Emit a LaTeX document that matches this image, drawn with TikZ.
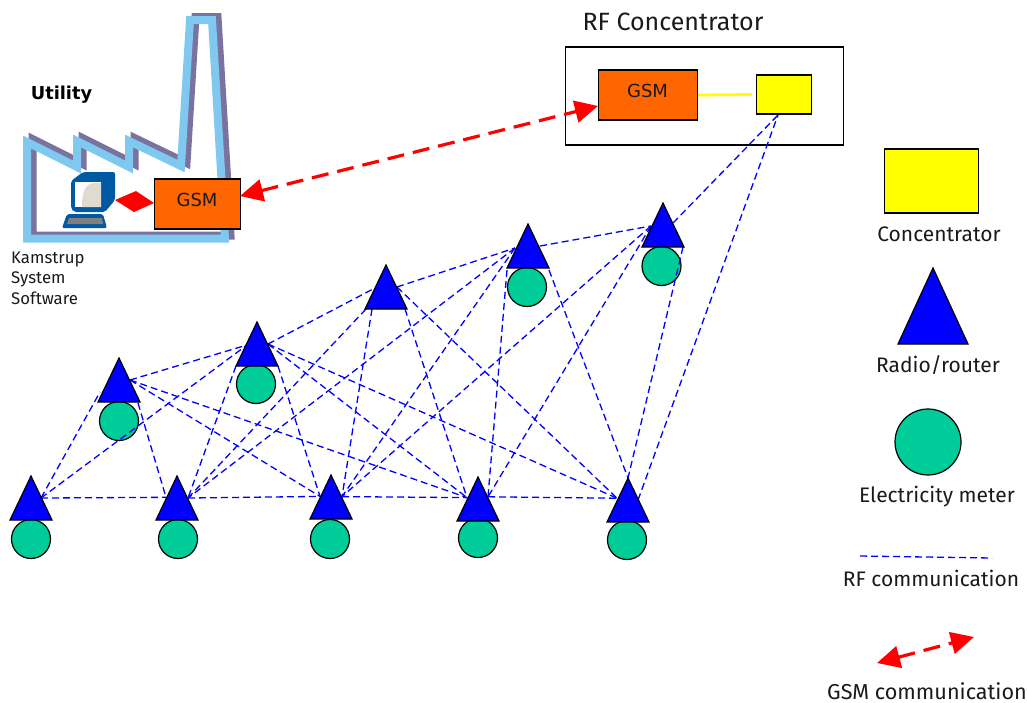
\documentclass[tikz,border=0pt]{standalone}
\usepackage{fontspec}
\setmainfont{Fira Sans}
\newfontfamily\verd{DejaVu Sans}
\usetikzlibrary{arrows.meta,shapes.geometric}
\definecolor{gsmorange}{HTML}{FF6600}
\definecolor{metergreen}{HTML}{00CC99}
\definecolor{factblue}{HTML}{7FC8EF}
\definecolor{factshade}{HTML}{7A739F}
\definecolor{pcblue}{HTML}{0059A3}
\definecolor{pcbeige}{HTML}{E0DBD0}
\definecolor{txt}{HTML}{1A1A1A}
\definecolor{yel}{HTML}{FFFF00}
\definecolor{rfblue}{HTML}{0000FF}
\definecolor{gsmred}{HTML}{FF0000}
\tikzset{
  rf/.style={draw=rfblue,line width=1.3pt,dash pattern=on 7pt off 4pt},
  gsmlink/.style={draw=gsmred,line width=3.2pt,dash pattern=on 17pt off 9pt,
     {Triangle[length=23pt,width=22pt,fill=gsmred]}-{Triangle[length=23pt,width=22pt,fill=gsmred]}},
  router/.style={isosceles triangle,isosceles triangle stretches,shape border rotate=90,
     draw=black,fill=rfblue,line width=1.2pt,inner sep=0pt,outer sep=0pt,minimum width=42pt,minimum height=44pt,anchor=apex},
  meter/.style={circle,draw=black,fill=metergreen,line width=1.2pt,inner sep=0pt,minimum size=39pt},
  gsmbox/.style={draw=black,fill=gsmorange,line width=1.2pt,inner sep=0pt},
  conc/.style={draw=black,fill=yel,line width=1.2pt,inner sep=0pt},
  lbl/.style={font=\fontsize{21}{23}\selectfont,text=txt,inner sep=0pt},
  fact/.style={line width=8pt,miter limit=10}
}
\begin{document}
\begin{tikzpicture}[x=1pt,y=-1pt]
\useasboundingbox (0,0) rectangle (1027,702);
% factory
\def\factory{(27,142) -- (77,167) -- (77,141) -- (129,167) -- (129,141) -- (181,166) -- (190,20) -- (212,20) -- (225,238.5) -- (27,238.5) -- cycle}
\begin{scope}[shift={(5.5,-3)}]
\draw[fact,draw=factshade] \factory;
\end{scope}
\draw[fact,draw=factblue] \factory;
% computer
\fill[pcblue,rounded corners=2pt] (71,181) -- (83,172) -- (115,172) -- (115,200) -- (105,212) -- (74,212) -- (71,208) -- cycle;
\fill[white] (75,182) rectangle (101,207);
\fill[pcbeige] (82,207) .. controls (82,192) and (85,183) .. (95,183) -- (101,183) -- (101,207) -- cycle;
\fill[pcblue,rounded corners=2pt] (67,214) -- (103,214) -- (107,228) -- (62,228) -- cycle;
\fill[gray] (67,224) -- (69,218) -- (102,218) -- (103,224) -- cycle;
\coordinate (pc) at (115,200);
% rf concentrator box
\node[draw=black,line width=1.2pt,minimum width=277.5pt,minimum height=98pt,inner sep=0pt] (rfbox) at (704.6,96) {};
\node[lbl,font=\fontsize{25}{27}\selectfont] (rftitle) at (673,22) {RF Concentrator};
\node[gsmbox,minimum width=86pt,minimum height=50pt] (gsmA) at (197.4,204) {};
\node[gsmbox,minimum width=99pt,minimum height=50pt] (gsmB) at (647.9,95) {};
\node[font=\verd\fontsize{18}{20}\selectfont,text=txt] (gsmAt) at (197,200) {GSM};
\node[font=\verd\fontsize{18}{20}\selectfont,text=txt] (gsmBt) at (647.5,91) {GSM};
\node[conc,minimum width=55pt,minimum height=39pt] (concA) at (783.8,94.5) {};
\draw[yel,line width=2.8pt] (gsmB.east) ++(0,0) -- ++(54,-0.5) coordinate (yend);
\node[font=\verd\bfseries\fontsize{17.8}{20}\selectfont,text=black,inner sep=0pt] (util) at (61.5,94.5) {Utility};
\node[font=\fontsize{16.8}{20.5}\selectfont,text=txt,align=left,anchor=north west,inner sep=0pt] (soft) at (11,251.5) {Kamstrup\\System\\Software};
% arrows
\coordinate (ga) at (240,196); \coordinate (gb) at (598,106);
\draw[gsmlink] (ga) -- (gb);
\fill[gsmred] (pc) -- (136,191) -- (154,203) -- (134,212) -- cycle;
% hubs
\coordinate (a1) at (41,498);
\coordinate (b1) at (166,497.3); \coordinate (b2) at (188,498);
\coordinate (c1) at (320,496.4); \coordinate (c2) at (342,496.6);
\coordinate (d1) at (467,497.6); \coordinate (d2) at (488,496.8);
\coordinate (e1) at (617,498.2); \coordinate (e2) at (628,478); \coordinate (e3) at (638,500);
\coordinate (f1) at (100,392); \coordinate (f2) at (130,380); \coordinate (f3) at (138,403);
\coordinate (g1) at (247,345); \coordinate (g2) at (268,344); \coordinate (g3) at (236,366); \coordinate (g4) at (278,366);
\coordinate (h1) at (375,288); \coordinate (h2) at (397,287); \coordinate (h3) at (366,309); \coordinate (h4) at (372,309); \coordinate (h5) at (405,309);
\coordinate (i1) at (515,248); \coordinate (i2) at (540,246); \coordinate (i3) at (507,270); \coordinate (i4) at (549,270);
\coordinate (j1) at (651,226); \coordinate (j2) at (673,223); \coordinate (j3) at (683,247);
\coordinate (k) at (778,115);
% meters
\foreach \n/\x/\y in {m1/31/539,m2/178/539,m3/330/539,m4/478/538,m5/627/540,m6/119/421,m7/256/384,m9/527/287,m10/661.5/266}
  \node[meter] (\n) at (\x,\y) {};
% rf links
\foreach \p/\q in {a1/b1,a1/f1,a1/g1,b2/c1,c2/d1,d2/e1,
  f3/b1,f2/g1,f2/c1,f2/d1,
  g4/c1,g3/b2,g2/d1,g2/e1,g2/h1,
  h3/b2,h4/c2,h5/d1,h2/e1,h2/i1,
  i1/b2,i1/c2,i3/d2,i4/e2,
  i2/j1,j1/c2,j1/d2,j3/e2,j2/k,e3/k}
  \draw[rf] (\p) -- (\q);
% routers
\foreach \n/\x/\y in {t1/31/476,t2/177/476,t3/331/475,t4/478/477,t5/628/478,t6/119/358,t7/257/322,t8/386/265,t9/528/224,t10/663/203}
  \node[router] (\n) at (\x,\y) {};
% legend
\node[conc,minimum width=94pt,minimum height=64pt] (legc) at (931.3,181) {};
\node[lbl] (legct) at (939,234) {Concentrator};
\node[router,minimum width=70pt,minimum height=76pt] (legr) at (933,268) {};
\node[lbl] (legrt) at (938,365) {Radio/router};
\node[meter,minimum size=66pt] (legm) at (928,442) {};
\node[lbl] (legmt) at (937,497) {Electricity meter};
\coordinate (rfa) at (860,556); \coordinate (rfb) at (992,558);
\draw[rf] (rfa) -- (rfb);
\node[lbl] (legft) at (931,578) {RF communication};
\coordinate (gla) at (877,663); \coordinate (glb) at (974,637);
\draw[gsmlink] (gla) -- (glb);
\node[lbl,font=\fontsize{21.6}{23}\selectfont] (leggt) at (927,691.5) {GSM communication};
\end{tikzpicture}
\end{document}
